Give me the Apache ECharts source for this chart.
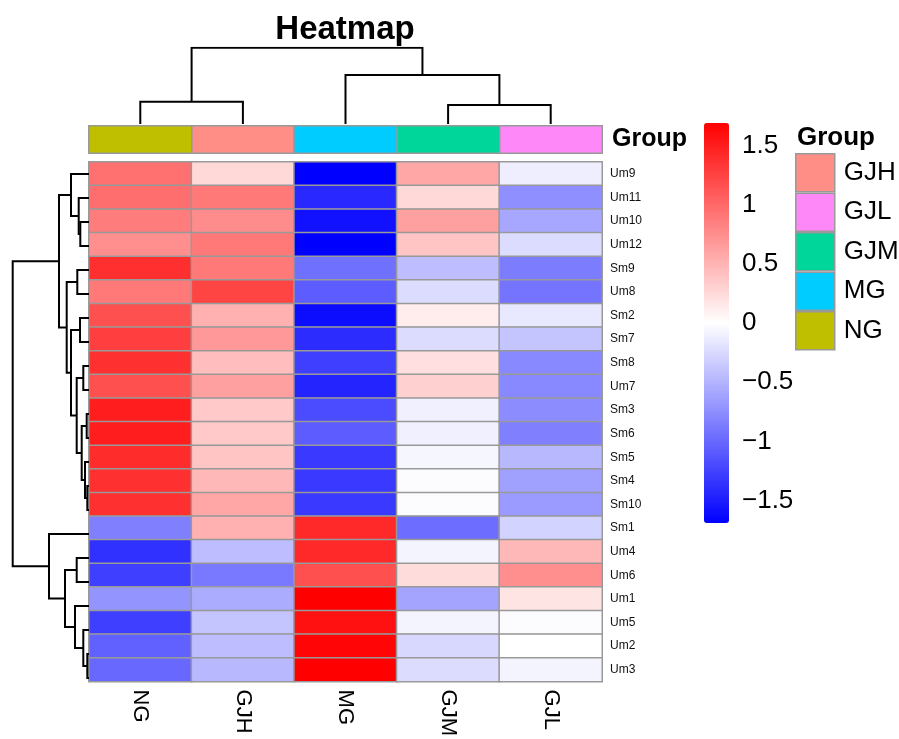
<!DOCTYPE html>
<html><head><meta charset="utf-8">
<script src="https://cdn.jsdelivr.net/npm/echarts@6/dist/echarts.min.js"></script>
<style>html,body{margin:0;padding:0;background:#fff}#c{width:899px;height:739px}</style>
</head><body><div id="c"></div>
<script>
// ---------------- data ----------------
const columns = ['NG', 'GJH', 'MG', 'GJM', 'GJL'];
const rows = ['Um9','Um11','Um10','Um12','Sm9','Um8','Sm2','Sm7','Sm8','Um7','Sm3','Sm6','Sm5','Sm4','Sm10','Sm1','Um4','Um6','Um1','Um5','Um2','Um3'];

// row-scaled values (z-scores) per column, in row order
const valNG  = [0.95, 0.96, 0.87, 0.74, 1.38, 0.89, 1.16, 1.27, 1.37, 1.16, 1.50, 1.50, 1.40, 1.37, 1.37, -0.84, -1.37, -1.27, -0.71, -1.27, -1.05, -1.00];
const valGJH = [0.26, 0.89, 0.76, 0.89, 0.89, 1.24, 0.52, 0.68, 0.44, 0.63, 0.36, 0.36, 0.39, 0.47, 0.58, 0.52, -0.44, -0.89, -0.55, -0.39, -0.44, -0.47];
const valMG  = [-1.69, -1.42, -1.58, -1.69, -0.95, -1.08, -1.61, -1.40, -1.27, -1.45, -1.19, -1.08, -1.31, -1.31, -1.31, 1.42, 1.42, 1.16, 1.69, 1.58, 1.66, 1.69];
const valGJM = [0.58, 0.26, 0.63, 0.39, -0.44, -0.23, 0.12, -0.23, 0.21, 0.31, -0.10, -0.10, -0.06, -0.02, -0.02, -0.97, -0.07, 0.23, -0.60, -0.07, -0.26, -0.23];
const valGJL = [-0.11, -0.74, -0.58, -0.23, -0.87, -0.92, -0.15, -0.39, -0.79, -0.79, -0.76, -0.84, -0.47, -0.63, -0.66, -0.29, 0.47, 0.74, 0.18, -0.02, 0.00, -0.07];

const groupNames = ['GJH', 'GJL', 'GJM', 'MG', 'NG'];
const colorbarTicks = [-1.5, -1, -0.5, 0, 0.5, 1, 1.5];
const scaleLimit = 1.69;

// dendrograms: [left, right, height]; strings are leaves, numbers refer to earlier merges
const colMerge = [
  ['NG', 'GJH', 22.3],
  ['GJM', 'GJL', 19],
  ['MG', 1, 49],
  [0, 2, 76.3]
];
const rowMerge = [
  ['Um10', 'Um12', 8.7],
  ['Um11', 0, 10.3],
  ['Um9', 1, 18],
  ['Sm9', 'Um8', 11.7],
  ['Sm2', 'Sm7', 9],
  ['Sm8', 'Um7', 5.7],
  ['Sm3', 'Sm6', 2.3],
  ['Sm4', 'Sm10', 1.7],
  ['Sm5', 7, 4],
  [6, 8, 7.3],
  [5, 9, 12.3],
  [4, 10, 18],
  [3, 11, 22.3],
  [2, 12, 30],
  ['Um4', 'Um6', 12.3],
  ['Um2', 'Um3', 1.7],
  ['Um5', 15, 5.7],
  ['Um1', 16, 14],
  [14, 17, 24],
  ['Sm1', 18, 40],
  [13, 19, 76.3]
];

// ---------------- styles ----------------
const groupColor = { GJH: '#FE8E86', GJL: '#FF88F8', GJM: '#00D699', MG: '#00CCFF', NG: '#BFBF00' };
const FONT = '"Liberation Sans", Arial, Helvetica, sans-serif';

// ---------------- build ----------------
const colValues = [valNG, valGJH, valMG, valGJM, valGJL];
const heatData = [];
colValues.forEach((arr, ci) => arr.forEach((v, ri) => heatData.push([ci, ri, v])));

function dendroSegments(merge, leaves, swap) {
  const pos = [], hgt = [];
  const gp = c => typeof c === 'string' ? leaves.indexOf(c) : pos[c];
  const gh = c => typeof c === 'string' ? 0 : hgt[c];
  const out = [];
  merge.forEach(([a, b, h], i) => {
    const pa = gp(a), pb = gp(b);
    let pts = [[pa, gh(a)], [pa, h], [pb, h], [pb, gh(b)]];
    if (swap) pts = pts.map(p => [p[1], p[0]]);
    out.push({ coords: pts });
    pos[i] = (pa + pb) / 2; hgt[i] = h;
  });
  return out;
}
const colMaxH = Math.max(...colMerge.map(m => m[2]));
const rowMaxH = Math.max(...rowMerge.map(m => m[2]));

const HM = { left: 89, top: 162, width: 513, height: 528 };

const annoSeries = groupNames.map(g => ({
  type: 'heatmap', name: g, xAxisIndex: 1, yAxisIndex: 1,
  data: [[columns.indexOf(g), 0, 1]],
  itemStyle: { color: groupColor[g], borderColor: '#999', borderWidth: 1.5 },
  emphasis: { disabled: true }, silent: true
}));

const option = {
  animation: false,
  backgroundColor: '#fff',
  textStyle: { fontFamily: FONT },
  title: [
    { text: 'Heatmap', left: 345, top: 13, textAlign: 'center', padding: 0,
      textStyle: { fontSize: 33, fontWeight: 'bold', color: '#000', fontFamily: FONT } },
    { text: 'Group', left: 797, top: 125, padding: 0,
      textStyle: { fontSize: 26, fontWeight: 'bold', color: '#000', fontFamily: FONT } }
  ],
  grid: [
    { left: HM.left, top: HM.top, width: HM.width, height: HM.height },
    { left: HM.left, top: 126, width: HM.width, height: 27 },
    { left: HM.left, top: 47.7, width: HM.width, height: 76.3 },
    { left: 12.7, top: HM.top, width: 76.3, height: HM.height },
    { left: 704, top: 123, width: 25, height: 400 }
  ],
  xAxis: [
    { gridIndex: 0, type: 'category', data: columns, position: 'bottom',
      axisLine: { show: false }, axisTick: { show: false },
      axisLabel: { rotate: -90, fontSize: 22, color: '#000', margin: 8, fontFamily: FONT } },
    { gridIndex: 1, type: 'category', data: columns, show: false },
    { gridIndex: 2, type: 'value', min: -0.5, max: columns.length - 0.5, show: false },
    { gridIndex: 3, type: 'value', min: 0, max: rowMaxH, inverse: true, show: false },
    { gridIndex: 4, type: 'value', min: 0, max: 1, show: false }
  ],
  yAxis: [
    { gridIndex: 0, type: 'category', data: rows, inverse: true, position: 'right',
      axisLine: { show: false }, axisTick: { show: false },
      axisLabel: { fontSize: 12, color: '#111', margin: 8, fontFamily: FONT } },
    { gridIndex: 1, type: 'category', data: ['Group'], position: 'right',
      axisLine: { show: false }, axisTick: { show: false },
      axisLabel: { fontSize: 25, fontWeight: 'bold', color: '#000', margin: 10, fontFamily: FONT } },
    { gridIndex: 2, type: 'value', min: 0, max: colMaxH, show: false },
    { gridIndex: 3, type: 'value', min: -0.5, max: rows.length - 0.5, inverse: true, show: false },
    { gridIndex: 4, type: 'value', min: -scaleLimit, max: scaleLimit, position: 'right',
      axisLine: { show: false }, axisTick: { show: false }, splitLine: { show: false },
      axisLabel: { customValues: colorbarTicks, fontSize: 26, color: '#000', margin: 13, fontFamily: FONT,
        formatter: v => String(v).replace('-', '\u2212') } }
  ],
  visualMap: {
    type: 'continuous', seriesIndex: 0, min: -scaleLimit, max: scaleLimit,
    calculable: false, orient: 'vertical', left: 704, top: 123, padding: 0,
    itemWidth: 25, itemHeight: 400, text: null, hoverLink: false,
    inRange: { color: ['#0000FF', '#FFFFFF', '#FF0000'] }
  },
  legend: {
    data: groupNames, orient: 'vertical', left: 795, top: 153, padding: 0,
    itemWidth: 39, itemHeight: 38, itemGap: 0, icon: 'rect', selectedMode: false,
    itemStyle: { borderColor: '#999', borderWidth: 1.5 },
    textStyle: { fontSize: 26, color: '#000', fontFamily: FONT, padding: [0, 0, 0, 4] }
  },
  series: [
    { type: 'heatmap', xAxisIndex: 0, yAxisIndex: 0, data: heatData,
      itemStyle: { borderColor: '#999', borderWidth: 1.5 },
      emphasis: { disabled: true }, silent: true },
    ...annoSeries,
    { type: 'lines', coordinateSystem: 'cartesian2d', xAxisIndex: 2, yAxisIndex: 2,
      polyline: true, silent: true, data: dendroSegments(colMerge, columns, false),
      lineStyle: { color: '#000', width: 2, opacity: 1 } },
    { type: 'lines', coordinateSystem: 'cartesian2d', xAxisIndex: 3, yAxisIndex: 3,
      polyline: true, silent: true, data: dendroSegments(rowMerge, rows, true),
      lineStyle: { color: '#000', width: 2, opacity: 1 } }
  ]
};

const chart = echarts.init(document.getElementById('c'), null, { renderer: 'canvas' });
chart.setOption(option);
</script>
</body></html>
